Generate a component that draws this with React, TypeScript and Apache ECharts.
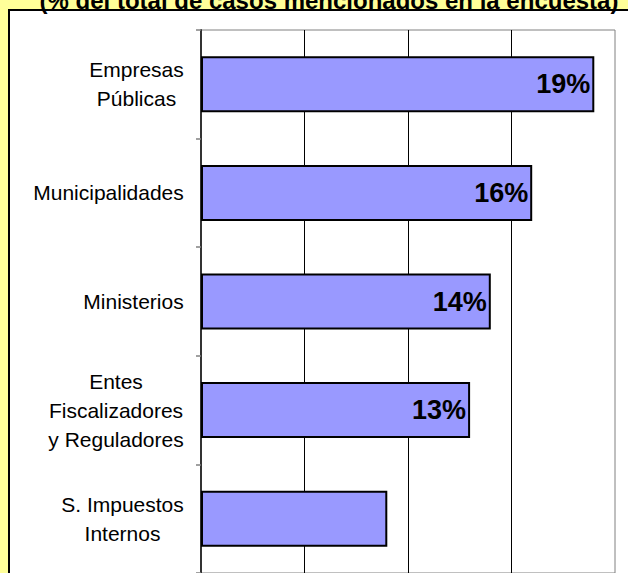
import React, { useEffect, useRef } from "react";
import * as echarts from "echarts";

const titleText = "(% del total de casos mencionados en la encuesta)";
const categories = [
  "Empresas\nPúblicas",
  "Municipalidades",
  "Ministerios",
  "Entes\nFiscalizadores\ny Reguladores",
  "S. Impuestos\nInternos",
];
const values = [19, 16, 14, 13, 9];
const showLabel = [true, true, true, true, false];
const xTicks = { min: 0, max: 20, interval: 5 };

const LABEL_FONT = "21px Arial, 'Liberation Sans', sans-serif";

export default function App() {
  const ref = useRef<HTMLDivElement>(null);
  useEffect(() => {
    document.body.style.margin = "0";
    if (!ref.current) return;
    const chart = echarts.init(ref.current, null, { renderer: "svg" });

    const ctx = document.createElement("canvas").getContext("2d");
    const rich: Record<string, any> = {};
    categories.forEach((c, i) => {
      let w = 0;
      if (ctx) {
        ctx.font = LABEL_FONT;
        c.split("\n").forEach((l) => {
          w = Math.max(w, ctx.measureText(l).width);
        });
      }
      rich["c" + i] = {
        width: Math.ceil(w),
        align: "center",
        fontSize: 21,
        fontFamily: "Arial, 'Liberation Sans', sans-serif",
        color: "#000",
        lineHeight: 29,
      };
    });

    chart.setOption({
      animation: false,
      backgroundColor: "#FFFF99",
      graphic: [
        {
          type: "rect",
          z: -10,
          silent: true,
          shape: { x: 9, y: 10, width: 700, height: 700 },
          style: { fill: "#ffffff", stroke: "#000000", lineWidth: 2 },
        },
        {
          type: "text",
          z: 10,
          x: 329,
          y: 0,
          style: {
            text: titleText,
            font: "bold 24px Arial, 'Liberation Sans', sans-serif",
            fill: "#000",
            textAlign: "center",
            textVerticalAlign: "middle",
          },
        },
      ],
      grid: {
        left: 201,
        top: 30,
        width: 414,
        height: 546,
        show: true,
        backgroundColor: "transparent",
        borderColor: "#808080",
        borderWidth: 1,
      },
      xAxis: {
        type: "value",
        min: xTicks.min,
        max: xTicks.max,
        interval: xTicks.interval,
        axisLabel: { show: false },
        axisLine: { show: false },
        axisTick: { show: false },
        splitLine: {
          show: true,
          showMinLine: false,
          showMaxLine: false,
          lineStyle: { color: "#000", width: 1 },
        },
      },
      yAxis: {
        type: "category",
        inverse: true,
        data: categories,
        axisLine: { show: true, lineStyle: { color: "#333", width: 2 } },
        axisTick: { show: true, length: 5, lineStyle: { color: "#808080", width: 1.5 } },
        axisLabel: {
          margin: 17,
          formatter: (v: string, i: number) =>
            v
              .split("\n")
              .map((l) => `{c${i}|${l}}`)
              .join("\n"),
          rich,
        },
      },
      series: [
        {
          type: "bar",
          barWidth: 56,
          itemStyle: { color: "#9999FF", borderColor: "#000", borderWidth: 2 },
          label: {
            show: true,
            position: "insideRight",
            distance: 4,
            formatter: "{c}%",
            fontSize: 27,
            fontWeight: "bold",
            fontFamily: "Arial, 'Liberation Sans', sans-serif",
            color: "#000",
          },
          data: values.map((v, i) => ({
            value: v,
            label: { show: showLabel[i] },
          })),
        },
      ],
    });
    return () => chart.dispose();
  }, []);
  return <div ref={ref} style={{ width: 628, height: 573 }} />;
}
